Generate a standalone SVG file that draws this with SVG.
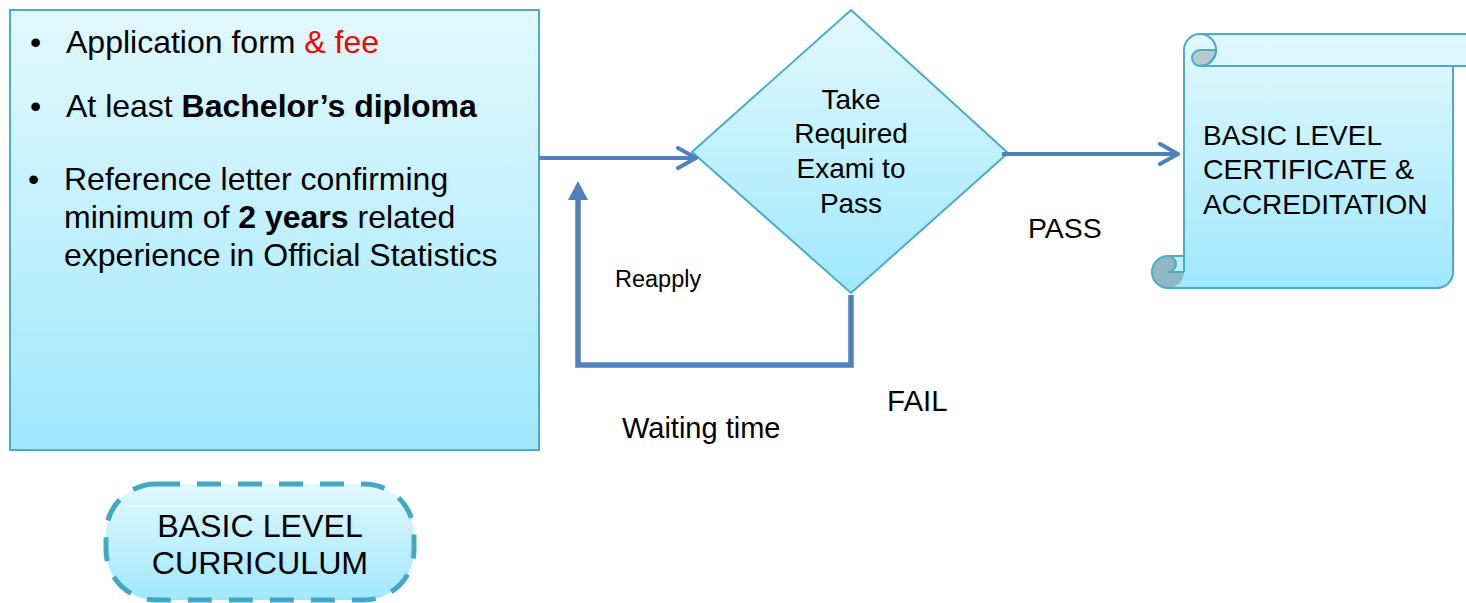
<svg xmlns="http://www.w3.org/2000/svg" width="1466" height="603" viewBox="0 0 1466 603">
<defs>
<linearGradient id="gFill" x1="0" y1="0" x2="0" y2="1">
<stop offset="0" stop-color="#e2f8fe"/>
<stop offset="1" stop-color="#a0e8fd"/>
</linearGradient>
<linearGradient id="gScroll" gradientUnits="userSpaceOnUse" x1="0" y1="34" x2="0" y2="288">
<stop offset="0" stop-color="#e2f8fe"/>
<stop offset="1" stop-color="#a0e8fd"/>
</linearGradient>
<marker id="chev" viewBox="0 0 24 24" refX="20" refY="12" markerWidth="24" markerHeight="24" markerUnits="userSpaceOnUse" orient="auto">
<path d="M2,2 L20,12 L2,22" fill="none" stroke="#4f81bd" stroke-width="4" stroke-linecap="round" stroke-linejoin="round"/>
</marker>
<marker id="tri" viewBox="0 0 20 20" refX="0" refY="10" markerWidth="20" markerHeight="20" markerUnits="userSpaceOnUse" orient="auto">
<path d="M0,0 L19,10 L0,20 Z" fill="#4f81bd"/>
</marker>
<style>
text{font-family:"Liberation Sans",Arial,sans-serif;fill:#000}
.shape{stroke:#4bacc6;stroke-width:2}
.conn{fill:none;stroke:#4f81bd}
.b{font-weight:bold}
.req{font-size:32px}
</style>
</defs>

<g id="requirements">
<rect class="shape" x="10" y="10" width="529" height="440" fill="url(#gFill)"/>
<text x="30" y="53" class="req">•</text>
<text x="66" y="53" class="req">Application form <tspan fill="#ff0000">&amp; fee</tspan></text>
<text x="30" y="117" class="req">•</text>
<text x="66" y="117" class="req">At least <tspan class="b">Bachelor’s diploma</tspan></text>
<text x="28" y="190" class="req">•</text>
<text x="64" y="190" class="req">Reference letter confirming</text>
<text x="64" y="228" class="req">minimum of <tspan class="b">2 years</tspan> related</text>
<text x="64" y="266" class="req">experience in Official Statistics</text>
</g>

<g id="exam">
<polygon class="shape" points="851,10 1008,153 851,293 692,152" fill="url(#gFill)"/>
<text x="851" y="109" font-size="28" text-anchor="middle">Take</text>
<text x="851" y="143" font-size="28" text-anchor="middle">Required</text>
<text x="851" y="178" font-size="28" text-anchor="middle">Exami to</text>
<text x="851" y="213" font-size="28" text-anchor="middle">Pass</text>
</g>

<g id="certificate">
<path d="M1184,256 L1184,50 A16,16 0 0 1 1200,34 L1469,34 A16,16 0 0 1 1469,66 L1453,66 L1453,272 A16,16 0 0 1 1437,288 L1168,288 A16,16 0 0 1 1168,256 Z" fill="url(#gScroll)" stroke="none"/>
<circle cx="1168" cy="272" r="16" fill="#8fb8c6"/>
<path d="M1168,256 A8,8 0 0 1 1168,272 L1184,272 L1184,256 Z" fill="#bdeffd"/>
<path d="M1216,50 L1200,50 A8,8 0 0 0 1200,66 A16,16 0 0 0 1216,50 Z" fill="#b6c9cf" stroke="#4bacc6" stroke-width="2"/>
<path d="M1184,256 L1184,50 A16,16 0 0 1 1200,34 L1469,34 A16,16 0 0 1 1469,66 L1453,66 L1453,272 A16,16 0 0 1 1437,288 L1168,288 A16,16 0 0 1 1168,256 Z" fill="none" class="shape"/>
<path d="M1200,66 L1453,66 M1200,34 A16,16 0 0 1 1200,66 M1168,256 A8,8 0 0 1 1168,272 L1184,272 M1184,256 L1184,272" fill="none" class="shape"/>
<text x="1203" y="145" font-size="28">BASIC LEVEL</text>
<text x="1203" y="179" font-size="28.5">CERTIFICATE &amp;</text>
<text x="1203" y="214" font-size="28">ACCREDITATION</text>
</g>

<g id="curriculum">
<rect x="106" y="484" width="308" height="116" rx="50" ry="50" fill="url(#gFill)" stroke="#45a8c3" stroke-width="5" stroke-dasharray="24 17"/>
<line x1="124" y1="506" x2="400" y2="506" stroke="#ffffff" stroke-width="1.2"/>
<text x="260" y="537" font-size="32.2" text-anchor="middle">BASIC LEVEL</text>
<text x="260" y="574" font-size="32.2" text-anchor="middle">CURRICULUM</text>
</g>

<g id="connectors">
<line class="conn" x1="539" y1="158" x2="696" y2="158" stroke-width="4" marker-end="url(#chev)"/>
<line class="conn" x1="1002" y1="154" x2="1178" y2="154" stroke-width="4" marker-end="url(#chev)"/>
<path class="conn" d="M851,295 L851,365 L578,365 L578,200" stroke-width="5.5" marker-end="url(#tri)"/>
</g>

<g id="labels">
<text x="1028" y="238" font-size="28.4">PASS</text>
<text x="887" y="411" font-size="29.5">FAIL</text>
<text x="622" y="438" font-size="29">Waiting time</text>
<text x="615" y="287" font-size="23.5">Reapply</text>
</g>
</svg>
